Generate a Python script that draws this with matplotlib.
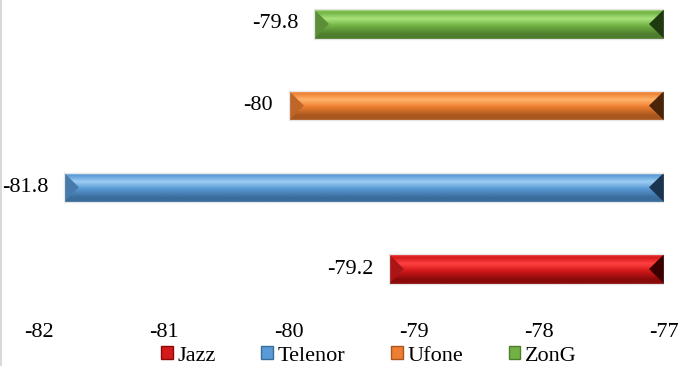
import matplotlib
matplotlib.use("Agg")
import matplotlib.pyplot as plt
import numpy as np
from matplotlib.colors import LinearSegmentedColormap, to_rgb
from matplotlib.patches import Patch, Polygon
from matplotlib.lines import Line2D

# data (bottom to top)
operators = ["Jazz", "Telenor", "Ufone", "ZonG"]
values = [-79.2, -81.8, -80.0, -79.8]
value_labels = ["-79.2", "-81.8", "-80", "-79.8"]
x_ticks = [-82, -81, -80, -79, -78, -77]

# colours: base, highlight, dark, end-dark
colors = {
    "Jazz": ("#d41a1a", "#ff4040", "#8a0a0a", "#3a0000"),
    "Telenor": ("#5a9ad6", "#9ccdf4", "#3a6c9c", "#1a3450"),
    "Ufone": ("#ee7f32", "#ffb469", "#a9561f", "#4a2408"),
    "ZonG": ("#72b244", "#a8e27c", "#4e7d2e", "#1f3a10"),
}

plt.rcParams["font.family"] = ["Liberation Serif", "DejaVu Serif"]
plt.rcParams["font.size"] = 16

fig = plt.figure(figsize=(6.79, 3.66), dpi=100)
W, H = 679, 366
ax = fig.add_axes([39 / W, 1 - 322 / H, 625 / W, 322 / H])

xmin, xmax = -82, -77
bar_h = 0.36
bevel = 0.12
ypos = np.arange(len(operators))

for i, name in enumerate(operators):
    base, hi, dark, enddark = colors[name]
    v = values[i]
    y = ypos[i]
    bar = ax.barh(y, v - xmax, left=xmax, height=bar_h, color=base,
                  edgecolor="#e8e8e8", linewidth=0.8, zorder=2)[0]
    cmap = LinearSegmentedColormap.from_list(
        name, [(0.0, hi), (0.1, base), (0.32, hi), (0.55, base),
               (0.85, dark), (1.0, dark)])
    grad = np.linspace(0, 1, 64)[:, None]
    im = ax.imshow(grad, extent=(v, xmax, y - bar_h / 2, y + bar_h / 2),
                   aspect="auto", cmap=cmap, origin="upper", zorder=2.1,
                   interpolation="bilinear")
    im.set_clip_path(bar)
    # bevelled ends
    lb = np.array(to_rgb(base)) * 0.8
    ax.add_patch(Polygon([(v, y - bar_h / 2), (v, y + bar_h / 2), (v + bevel, y)],
                         closed=True, color=lb, lw=0, zorder=2.2))
    ax.add_patch(Polygon([(xmax, y - bar_h / 2), (xmax, y + bar_h / 2), (xmax - bevel, y)],
                         closed=True, color=enddark, lw=0, zorder=2.2))
    ax.add_patch(Polygon([(v, y - bar_h / 2), (v, y + bar_h / 2), (xmax, y + bar_h / 2),
                          (xmax, y - bar_h / 2)], closed=True, fill=False,
                         edgecolor="#e6e6e6", lw=0.9, zorder=2.3))
    ax.annotate(value_labels[i], (v, y), xytext=(-11.5, 0), textcoords="offset points",
                ha="right", va="center", fontsize=16)

ax.set_xlim(xmin, xmax)
ax.set_ylim(-(322 - 269) / 81.67, 3 + 24 / 81.67)
ax.set_xticks(x_ticks)
ax.set_xticklabels([str(t) for t in x_ticks])
ax.set_yticks([])
ax.tick_params(axis="x", length=0, pad=1)
for s in ax.spines.values():
    s.set_visible(False)

handles = [Patch(facecolor=colors[n][0], edgecolor=colors[n][2], linewidth=1.0) for n in operators]
fig.legend(handles, operators, loc="center", bbox_to_anchor=(369 / W, 1 - 356 / H),
           ncol=4, frameon=False, handlelength=0.52, handleheight=0.52,
           handletextpad=0.22, columnspacing=2.05, fontsize=16, borderpad=0)

fig.add_artist(Line2D([1 / W, 1 / W], [0, 1], color="#d9d9d9", lw=1.5, transform=fig.transFigure))

fig.savefig("out.png", dpi=100)
